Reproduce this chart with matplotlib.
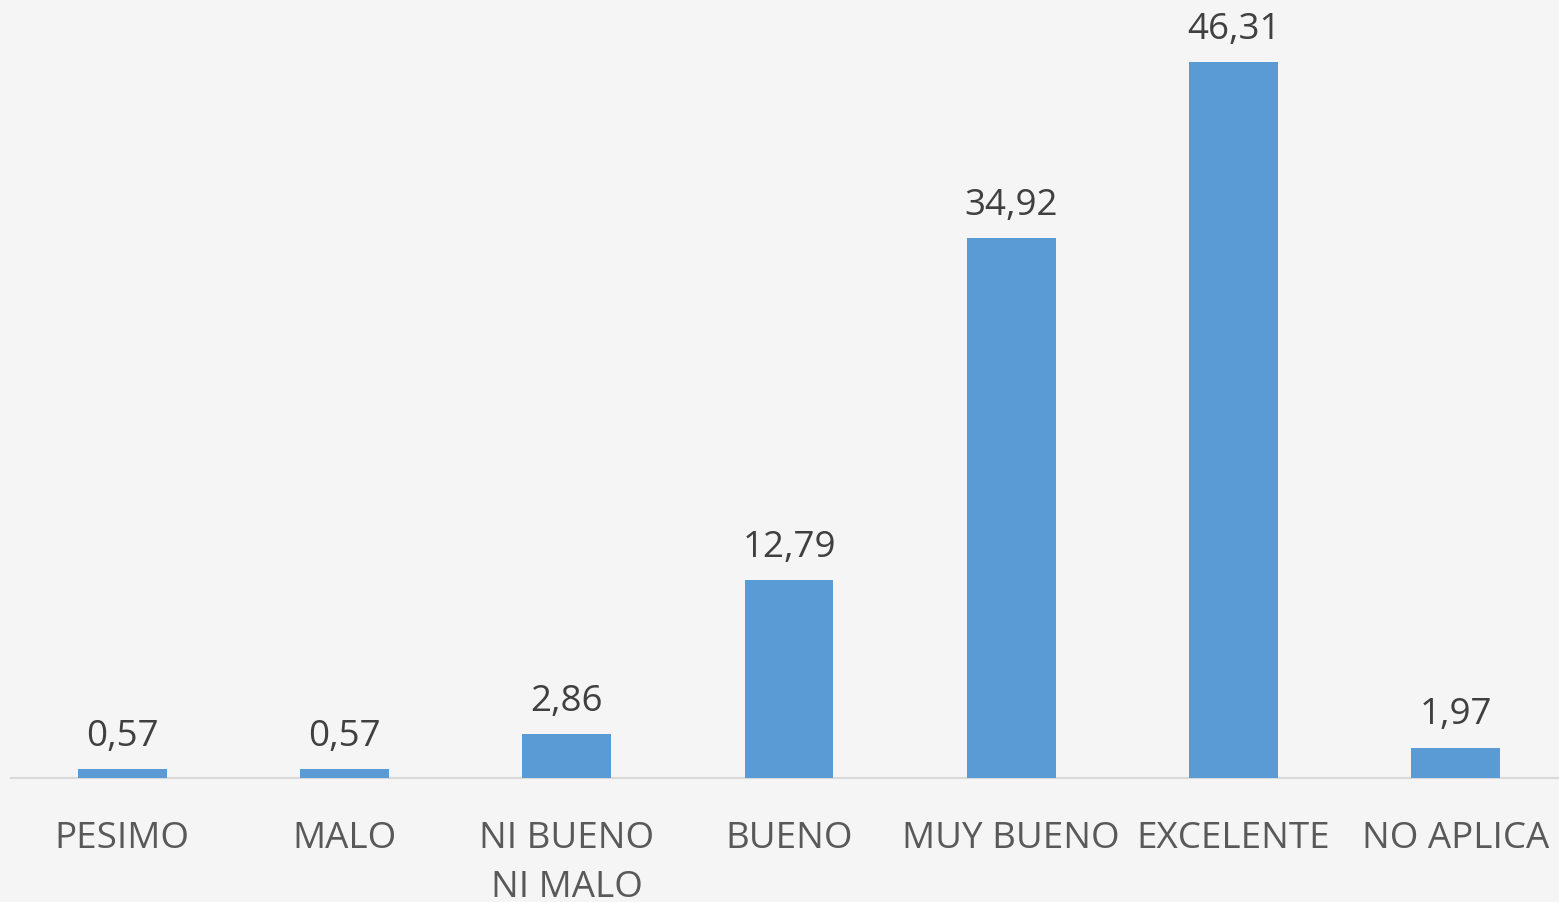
import matplotlib
matplotlib.use("Agg")
import matplotlib.pyplot as plt

categories = ["PESIMO", "MALO", "NI BUENO\nNI MALO", "BUENO", "MUY BUENO", "EXCELENTE", "NO APLICA"]
values = [0.57, 0.57, 2.86, 12.79, 34.92, 46.31, 1.97]
value_labels = ["0,57", "0,57", "2,86", "12,79", "34,92", "46,31", "1,97"]

plt.rcParams['font.family'] = ['Open Sans', 'DejaVu Sans']

W, H = 1559, 903
fig = plt.figure(figsize=(W/100, H/100), dpi=100)
bg = "#f5f5f5"
fig.patch.set_facecolor(bg)

left = 11 / W
right = 1567 / W
bottom = (H - 779) / H
top_px = 779 - 50 * 15.46
ax = fig.add_axes([left, bottom, right - left, (779 - top_px) / H])
ax.set_facecolor(bg)

x = list(range(len(categories)))
bars = ax.bar(x, values, width=0.4, color="#5b9bd5", zorder=3)
ax.set_xlim(-0.5, len(categories) - 0.5)
ax.set_ylim(0, 50)

for xi, v, lab in zip(x, values, value_labels):
    ax.annotate(lab, (xi, v), xytext=(0, 11), textcoords="offset points",
                ha="center", va="bottom", fontsize=26.5, color="#404040")

for s in ["top", "right", "left"]:
    ax.spines[s].set_visible(False)
ax.spines["bottom"].set_color("#d9d9d9")
ax.spines["bottom"].set_linewidth(1.5)
ax.spines["bottom"].set_zorder(2)
ax.set_yticks([])
ax.set_xticks(x)
ax.set_xticklabels(categories, fontsize=26.5, color="#595959", linespacing=1.45)
ax.tick_params(axis="x", length=0, pad=30.5)

fig.savefig("out.png", dpi=100, facecolor=bg)
